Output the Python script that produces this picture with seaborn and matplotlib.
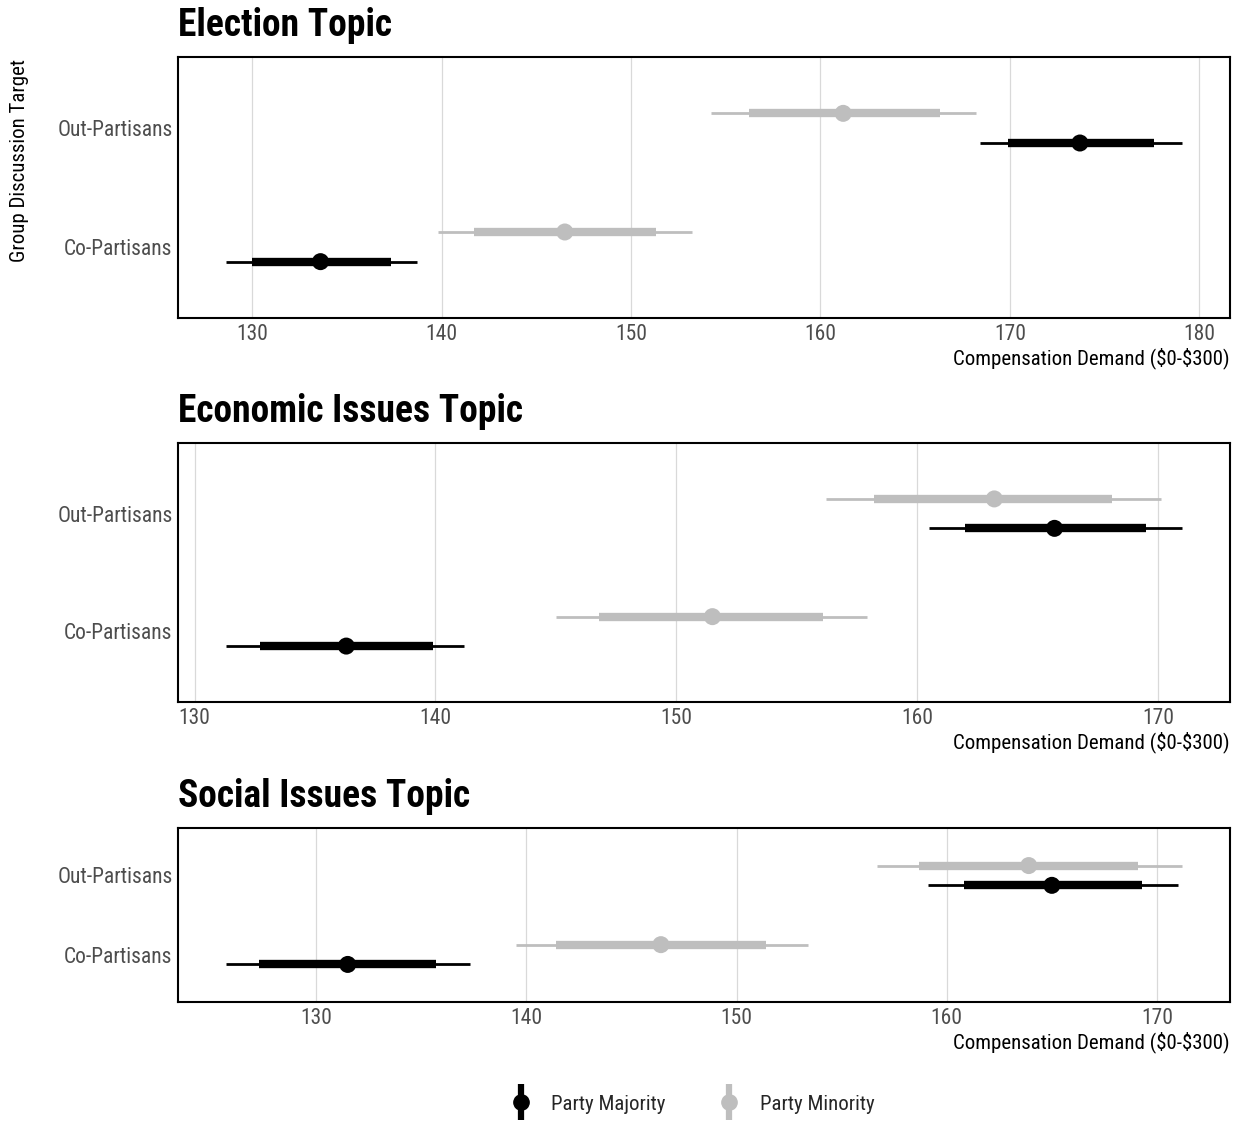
import numpy as np
import pandas as pd
import matplotlib
matplotlib.use("Agg")
import matplotlib.pyplot as plt
from matplotlib import font_manager
from matplotlib.lines import Line2D
from matplotlib.legend_handler import HandlerTuple
from matplotlib.ticker import MultipleLocator
import seaborn as sns

# ---------------- data ----------------
topics = ["Election Topic", "Economic Issues Topic", "Social Issues Topic"]
targets = ["Co-Partisans", "Out-Partisans"]
groups = ["Party Majority", "Party Minority"]

# order per topic: [maj co, maj out, min co, min out]
est   = {"Election Topic":        [133.6, 173.7, 146.5, 161.2],
         "Economic Issues Topic": [136.3, 165.7, 151.5, 163.2],
         "Social Issues Topic":   [131.5, 165.0, 146.4, 163.9]}
lo66  = {"Election Topic":        [130.0, 169.9, 141.7, 156.2],
         "Economic Issues Topic": [132.7, 162.0, 146.8, 158.2],
         "Social Issues Topic":   [127.3, 160.8, 141.4, 158.7]}
hi66  = {"Election Topic":        [137.3, 177.6, 151.3, 166.3],
         "Economic Issues Topic": [139.9, 169.5, 156.1, 168.1],
         "Social Issues Topic":   [135.7, 169.3, 151.4, 169.1]}
lo95  = {"Election Topic":        [128.6, 168.4, 139.8, 154.2],
         "Economic Issues Topic": [131.3, 160.5, 145.0, 156.2],
         "Social Issues Topic":   [125.7, 159.1, 139.5, 156.7]}
hi95  = {"Election Topic":        [138.7, 179.1, 153.2, 168.2],
         "Economic Issues Topic": [141.2, 171.0, 157.9, 170.1],
         "Social Issues Topic":   [137.3, 171.0, 153.4, 171.2]}

rows = []
for t in topics:
    i = 0
    for g in groups:
        for tg in targets:
            rows.append(dict(topic=t, group=g, target=tg, est=est[t][i],
                             lo66=lo66[t][i], hi66=hi66[t][i],
                             lo95=lo95[t][i], hi95=hi95[t][i]))
            i += 1
df = pd.DataFrame(rows)

# ---------------- style ----------------
sns.set_theme(style="white")
avail = {f.name for f in font_manager.fontManager.ttflist}
fam = next((f for f in ["Roboto Condensed", "Liberation Sans Narrow", "Roboto"] if f in avail), "DejaVu Sans")
plt.rcParams["font.family"] = [fam, "DejaVu Sans"]

palette = {"Party Majority": "#000000", "Party Minority": "#BEBEBE"}
dodge = {"Party Majority": -0.125, "Party Minority": 0.125}
tpos = {"Co-Partisans": 1, "Out-Partisans": 2}

W, H = 1243, 1122
fig = plt.figure(figsize=(W / 100, H / 100), dpi=100)

# (top, bottom) in pixels
boxes = [(57, 318), (443, 702), (828, 1002)]
left_px, right_px = 178, 1230

for t, (top, bot) in zip(topics, boxes):
    ax = fig.add_axes([left_px / W, 1 - bot / H, (right_px - left_px) / W, (bot - top) / H])
    d = df[df.topic == t].copy()
    d["ypos"] = d.target.map(tpos) + d.group.map(dodge)
    for g in groups:
        dg = d[d.group == g]
        ax.hlines(dg.ypos, dg.lo95, dg.hi95, color=palette[g], lw=2, zorder=2)
        ax.hlines(dg.ypos, dg.lo66, dg.hi66, color=palette[g], lw=6, zorder=2.5)
    sns.scatterplot(data=d, x="est", y="ypos", hue="group", palette=palette,
                    s=150, edgecolor="none", legend=False, ax=ax, zorder=3)
    lo, hi = d.lo95.min(), d.hi95.max()
    pad = 0.05 * (hi - lo)
    ax.set_xlim(lo - pad, hi + pad)
    ax.set_ylim(0.4, 2.6)
    ax.xaxis.set_major_locator(MultipleLocator(10))
    ax.set_yticks([1, 2])
    ax.set_yticklabels(targets)
    ax.grid(axis="x", color="#D9D9D9", lw=0.9)
    ax.grid(axis="y", visible=False)
    ax.set_axisbelow(True)
    for s in ax.spines.values():
        s.set_color("black")
        s.set_linewidth(1.5)
    ax.tick_params(axis="both", length=0, labelsize=15.5, labelcolor="#4D4D4D", pad=4)
    ax.set_ylabel("")
    ax.set_xlabel("Compensation Demand (\\$0-\\$300)", fontsize=15, color="black", loc="right", labelpad=2)
    ax.set_title(t, loc="left", fontsize=27, fontweight="bold", pad=15, color="black")

fig.text(20 / W, 1 - 160 / H, "Group Discussion Target", rotation=90, fontsize=15,
         ha="center", va="center", color="black")

handles = []
for g in groups:
    c = palette[g]
    handles.append((Line2D([], [], color=c, marker="|", markersize=26, mew=4.5, linestyle="None"),
                    Line2D([], [], color=c, marker="o", markersize=11, linestyle="None")))
fig.legend(handles, groups, handler_map={tuple: HandlerTuple(ndivide=1)},
           loc="center", bbox_to_anchor=(690 / W, 1 - 1104 / H), ncol=2, frameon=False,
           fontsize=15, handlelength=1.5, columnspacing=2.3, handletextpad=0.7)

fig.savefig("out.png", dpi=100)
